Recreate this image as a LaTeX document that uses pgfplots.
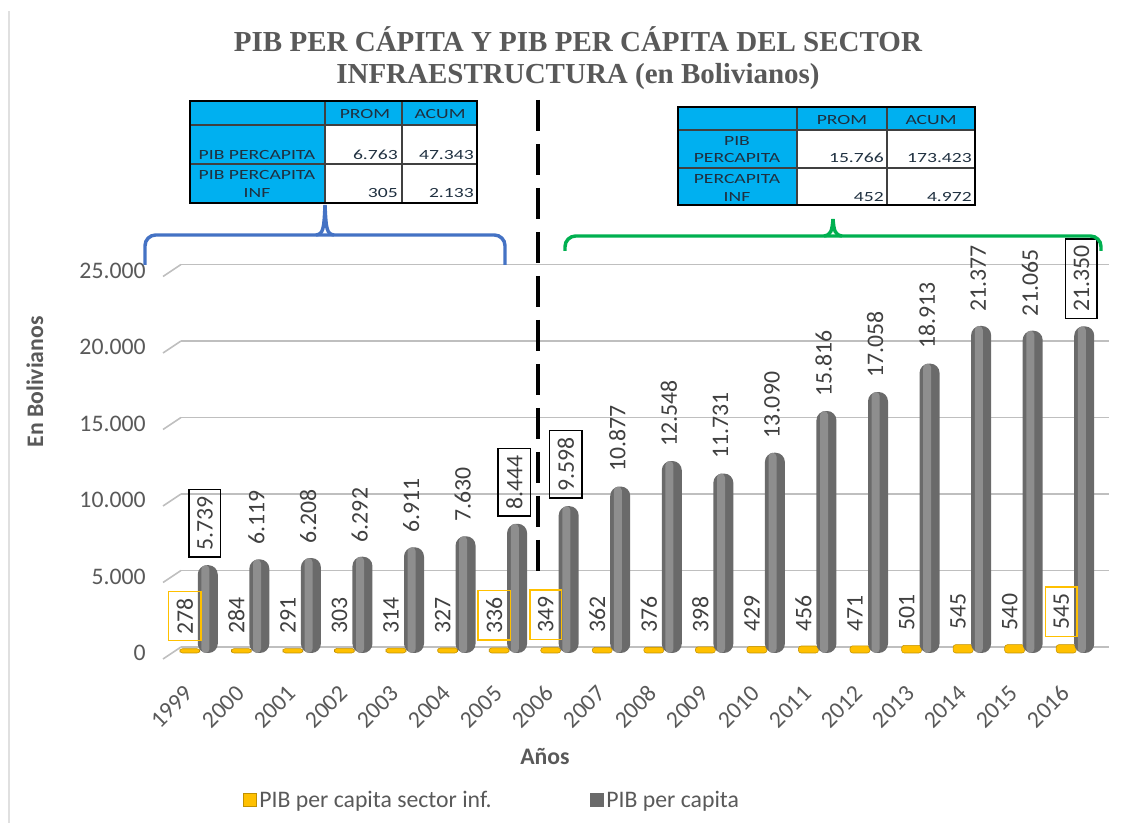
\documentclass[border=0pt]{standalone}
\usepackage{graphicx}
\usepackage{pgfplots}
\pgfplotsset{compat=1.18}
\usepackage{pgfplotstable}
\usepackage{fontspec}
\setmainfont{Carlito}
\newfontfamily\titlefont{Liberation Serif}
\definecolor{txt}{HTML}{595959}
\definecolor{lbl}{HTML}{404040}
\definecolor{ylw}{HTML}{FFC000}
\definecolor{ylwd}{HTML}{C09000}
\definecolor{gdark}{HTML}{6A6A6A}
\definecolor{glight}{HTML}{8E8E8E}
\definecolor{cyanb}{HTML}{00B0F0}
\definecolor{bluebr}{HTML}{4472C4}
\definecolor{greenbr}{HTML}{00B050}
\definecolor{gridc}{HTML}{BFBFBF}
\definecolor{tabtxt}{HTML}{1F3040}

\pgfplotstableread{
x inf pib
0 278 5739
1 284 6119
2 291 6208
3 303 6292
4 314 6911
5 327 7630
6 336 8444
7 349 9598
8 362 10877
9 376 12548
10 398 11731
11 429 13090
12 456 15816
13 471 17058
14 501 18913
15 545 21377
16 540 21065
17 545 21350
}\datatab

\newcommand\fs{\fontsize{17.8}{20}\selectfont}
\newcommand\tx[1]{\scalebox{1.4}[1]{#1}}

\pgfplotsset{
  lbl/.style={forget plot, draw=none, mark=none, nodes near coords,
    every node near coord/.append style={rotate=90, anchor=west, font=\fs, text=lbl,
      line width=1.1pt, inner xsep=5pt, inner ysep=6pt, outer xsep=6pt, outer ysep=0pt}},
  boxed/.style={x filter/.expression={(round(x)==0||round(x)==6||round(x)==7||round(x)==17) ? x : nan}},
  unboxed/.style={x filter/.expression={(round(x)==0||round(x)==6||round(x)==7||round(x)==17) ? nan : x}},
}

\begin{document}
\begin{tikzpicture}
\path[use as bounding box] (0,0) rectangle (852pt,617.25pt);
\begin{axis}[
  at={(129.75pt,127.5pt)}, anchor=south west, scale only axis,
  width=696pt, height=286.875pt,
  xmin=-0.5, xmax=17.5, ymin=0, ymax=25000,
  clip=false,
  axis line style={draw=none},
  major tick length=0pt,
  xtick={0,...,17},
  xticklabels={1999,2000,2001,2002,2003,2004,2005,2006,2007,2008,2009,2010,2011,2012,2013,2014,2015,2016},
  ytick={0,5000,10000,15000,20000,25000},
  scaled y ticks=false,
  /pgf/number format/fixed,
  /pgf/number format/precision=0,
  /pgf/number format/1000 sep={.},
  /pgf/number format/assume math mode=true,
  yticklabel style={xshift=-17pt, text=txt, font=\fs},
  xticklabel style={xshift=-5pt, yshift=-25pt, rotate=45, anchor=east, text=txt, font=\fs},
  ymajorgrids,
  major grid style={draw=gridc, line width=1.2pt, xshift=6pt, yshift=4.5pt},
  legend style={at={(0.344,-0.384)}, anchor=center, draw=none, fill=none,
    legend columns=2, font=\fs, text=txt,
    /tikz/every even column/.append style={column sep=72pt}},
]
\pgfplotsinvokeforeach{0,5000,10000,15000,20000,25000}{
  \draw[gridc, line width=1.2pt] ([xshift=6pt,yshift=4.5pt]axis cs:-0.5,#1) -- ++(-13.5pt,-9pt);
}
\addplot[ybar, bar width=15pt, bar shift=-6.75pt, draw=ylwd, line width=0.4pt, fill=ylw,
  rounded corners=2pt,
  legend image code/.code={\fill[ylw, draw=ylwd, sharp corners] (0pt,-5pt) rectangle (10pt,5pt);}
] table[x=x, y=inf] {\datatab};
\addlegendentry{PIB per capita sector inf.}
\addplot[ybar, bar width=15pt, bar shift=6.75pt, draw=none, fill=gdark,
  rounded corners=7pt,
  legend image code/.code={\fill[gdark, sharp corners] (0pt,-5pt) rectangle (10pt,5pt);}
] table[x=x, y=pib] {\datatab};
\addlegendentry{PIB per capita}
% cylinder highlight
\addplot[ybar, forget plot, bar width=6pt, bar shift=5pt, draw=none, fill=glight,
  rounded corners=3pt] table[x=x, y=pib] {\datatab};
% data labels
\addplot[lbl, unboxed] table[x expr=\thisrow{x}-0.27, y=inf] {\datatab};
\addplot[lbl, boxed,
  every node near coord/.append style={draw=ylw}] table[x expr=\thisrow{x}-0.27, y=inf] {\datatab};
\addplot[lbl, unboxed] table[x expr=\thisrow{x}+0.12, y=pib] {\datatab};
\addplot[lbl, boxed,
  every node near coord/.append style={draw=black}] table[x expr=\thisrow{x}+0.12, y=pib] {\datatab};
\end{axis}

\begin{scope}[x=0.75pt, y=-0.75pt, yshift=617.25pt]
% left border
\draw[black!12, line width=1.5pt] (9,11) -- (9,823);
% title
\node[font=\titlefont\bfseries\fontsize{21.75}{24}\selectfont, text=txt, align=center] at (578,58)
  {PIB PER CÁPITA Y PIB PER CÁPITA DEL SECTOR\\INFRAESTRUCTURA (en Bolivianos)};
% axis titles
\node[rotate=90, font=\fs\bfseries, text=txt] at (35,382) {En Bolivianos};
\node[font=\fs\bfseries, text=txt] at (545,757) {Años};
% dashed separator
\draw[black, line width=3pt, dash pattern=on 23pt off 10pt] (538,100) -- (538,575);
% braces
\draw[bluebr, line width=2.6pt, rounded corners=8pt] (145,265) -- (145,235) -- (505,235) -- (505,265);
\draw[bluebr, line width=2.6pt] (316,235) .. controls (323,234) and (324,230) .. (325,205)
  .. controls (326,230) and (327,234) .. (334,235);
\draw[greenbr, line width=2.6pt, rounded corners=8pt] (565,251) -- (565,236) -- (1101,236) -- (1101,251);
\draw[greenbr, line width=2.6pt] (824,236) .. controls (831,235) and (832,231) .. (833,219)
  .. controls (834,231) and (835,235) .. (842,236);
% left table
\fill[cyanb] (190,101) rectangle (477,125);
\fill[cyanb] (190,125) rectangle (325,203);
\fill[white] (325,125) rectangle (477,203);
\draw[black!75, line width=0.8pt] (325,101) -- (325,203) (402,101) -- (402,203)
  (190,125) -- (477,125) (190,164) -- (477,164);
\draw[black, line width=2pt] (190,101) rectangle (477,203);
\begin{scope}[every node/.style={font=\fontsize{10.5}{12}\selectfont, text=tabtxt, inner sep=0pt}]
\node at (365,114) {\tx{PROM}};
\node at (440,114) {\tx{ACUM}};
\node at (257,155) {\tx{PIB PERCAPITA}};
\node[anchor=east] at (398,155) {\tx{6.763}};
\node[anchor=east] at (474,155) {\tx{47.343}};
\node at (257,175) {\tx{PIB PERCAPITA}};
\node at (257,193) {\tx{INF}};
\node[anchor=east] at (398,193) {\tx{305}};
\node[anchor=east] at (474,193) {\tx{2.133}};
\end{scope}
% right table
\fill[cyanb] (678,107) rectangle (975,130);
\fill[cyanb] (678,130) rectangle (797,205);
\fill[white] (797,130) rectangle (975,205);
\draw[black!75, line width=0.8pt] (797,107) -- (797,205) (887,107) -- (887,205)
  (678,130) -- (975,130) (678,168) -- (975,168);
\draw[black, line width=2pt] (678,107) rectangle (975,205);
\begin{scope}[every node/.style={font=\fontsize{10.5}{12}\selectfont, text=tabtxt, inner sep=0pt}]
\node at (842,120) {\tx{PROM}};
\node at (931,120) {\tx{ACUM}};
\node at (737,141) {\tx{PIB}};
\node at (737,158) {\tx{PERCAPITA}};
\node[anchor=east] at (884,158) {\tx{15.766}};
\node[anchor=east] at (972,158) {\tx{173.423}};
\node at (737,179) {\tx{PERCAPITA}};
\node at (737,197) {\tx{INF}};
\node[anchor=east] at (884,197) {\tx{452}};
\node[anchor=east] at (972,197) {\tx{4.972}};
\end{scope}
\end{scope}
\end{tikzpicture}
\end{document}
